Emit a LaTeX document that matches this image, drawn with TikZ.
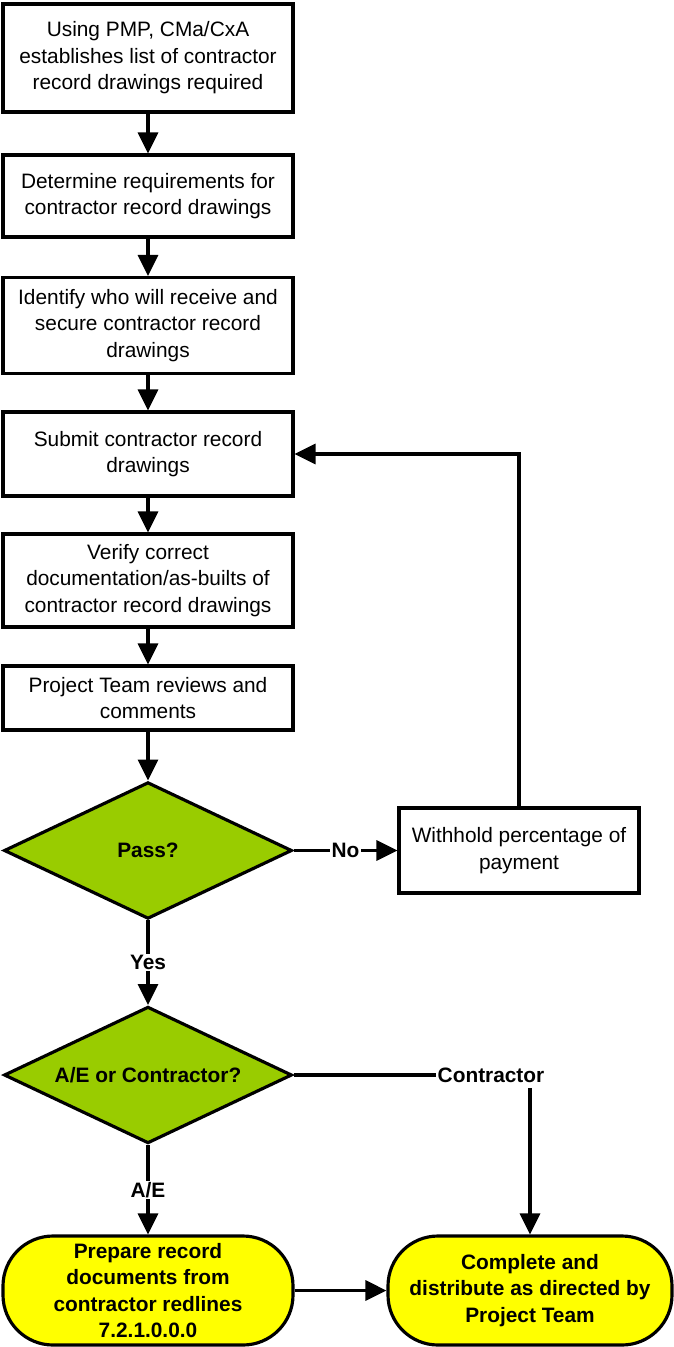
\documentclass[tikz,border=0pt]{standalone}
\usepackage{fontspec}
\setmainfont{Liberation Sans}
\usetikzlibrary{arrows.meta,shapes.geometric}
\definecolor{passgreen}{HTML}{99CC00}
\definecolor{termyellow}{HTML}{FFFF00}
\newcommand\txt{\fontsize{17.8}{22.6}\selectfont}
\tikzset{
  every node/.style={font=\txt},
  box/.style={draw,line width=2.7pt,fill=white,align=center,minimum width=8.7cm,inner sep=0pt},
  choice/.style={diamond,draw,line width=2.7pt,fill=passgreen,aspect=2.13,minimum width=8.64cm,minimum height=4.1cm,inner sep=0pt,font=\bfseries\txt},
  term/.style={draw,line width=2.7pt,fill=termyellow,rounded corners=1.5cm,align=center,minimum height=3.27cm,inner sep=0pt,font=\bfseries\txt},
  lbl/.style={fill=white,inner sep=1pt,font=\bfseries\txt},
  arr/.style={line width=2.7pt,-{Triangle[length=0.63cm,width=0.6cm]}},
  lin/.style={line width=2.7pt}
}
\begin{document}
\begin{tikzpicture}[x=0.03cm,y=-0.03cm]
  \useasboundingbox(0,0)rectangle(674,1347);
  \node[box,minimum height=3.24cm](b1)at(148,58){Using PMP, CMa/CxA\\establishes list of contractor\\record drawings required};
  \node[box,minimum height=2.46cm](b2)at(148,196){Determine requirements for\\contractor record drawings};
  \node[box,minimum height=2.88cm](b3)at(148,325.5){Identify who will receive and\\secure contractor record\\drawings};
  \node[box,minimum height=2.52cm](b4)at(148,454){Submit contractor record\\drawings};
  \node[box,minimum height=2.79cm](b5)at(148,580.5){Verify correct\\documentation/as-builts of\\contractor record drawings};
  \node[box,minimum height=1.92cm](b6)at(148,698){Project Team reviews and\\comments};
  \node[choice](d1)at(148,850.5){Pass?};
  \node[box,minimum width=7.2cm,minimum height=2.55cm](w)at(519,850.5){Withhold percentage of\\payment};
  \node[choice](d2)at(148,1075){A/E or Contractor?};
  \node[lbl](lc)at(491,1075){Contractor};
  \node[term,minimum width=8.7cm](t1)at(148,1290.5){Prepare record\\documents from\\contractor redlines\\7.2.1.0.0.0};
  \node[term,minimum width=8.52cm](t2)at(530,1290.5){Complete and\\distribute as directed by\\Project Team};
  \draw[arr](b1.south)--(b2.north);
  \draw[arr](b2.south)--(b3.north);
  \draw[arr](b3.south)--(b4.north);
  \draw[arr](b4.south)--(b5.north);
  \draw[arr](b5.south)--(b6.north);
  \draw[arr](b6.south)--(d1.north);
  \draw[arr](d1.east)--node[lbl]{No}(w.west);
  \draw[arr](w.north)|-(b4.east);
  \draw[arr](d1.south)--node[lbl]{Yes}(d2.north);
  \draw[lin](d2.east)--(lc.west);
  \draw[arr]([yshift=-4pt]lc.south-|t2.north)--(t2.north);
  \draw[arr](d2.south)--node[lbl]{A/E}(t1.north);
  \draw[arr](t1.east)--(t2.west);
\end{tikzpicture}
\end{document}
